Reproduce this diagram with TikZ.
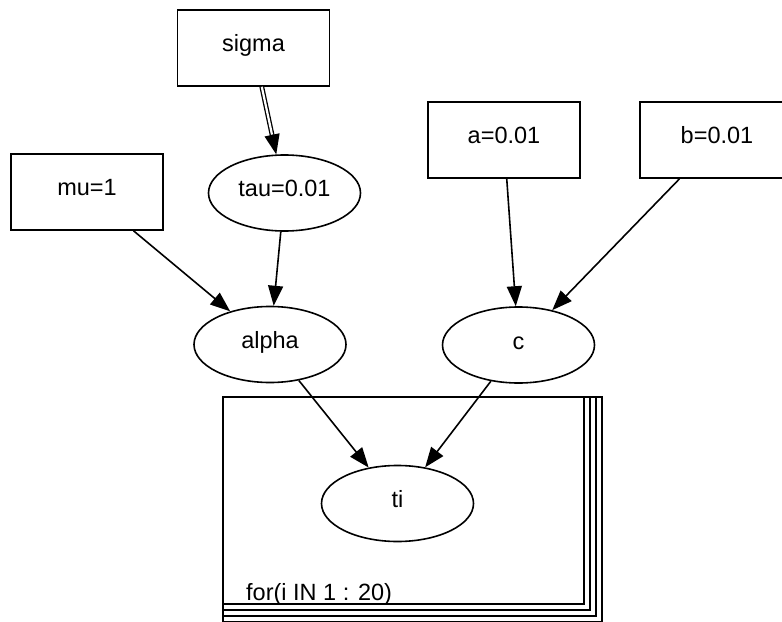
\documentclass[tikz,border=0pt]{standalone}
\usepackage{fontspec}
\setmainfont{Liberation Sans}
\usetikzlibrary{shapes.geometric,arrows.meta}
\begin{document}
\begin{tikzpicture}[x=1bp,y=-1bp,
  every node/.style={font=\fontsize{23.5bp}{28bp}\selectfont},
  base/.style={draw, line width=1.6bp, inner sep=0pt, text height=17bp, text depth=9bp},
  box/.style={base, rectangle, minimum width=152bp, minimum height=76bp},
  oval/.style={base, ellipse, minimum width=152bp, minimum height=76bp},
  arr/.style={draw, line width=1.6bp, -{Triangle[length=20bp,width=15bp]}},
  dbl/.style={draw, line width=1.3bp, double, double distance=2.2bp},
  plate/.style={draw, line width=2.2bp}]
\useasboundingbox (0,0) rectangle (782,622);
% plate
\foreach \k in {3,2,1,0}{
  \draw[plate] (223,397) rectangle ({584+6*\k},{604+6*\k});
}
% nodes
\node[box] (sigma) at (253.5,48) {sigma};
\node[box] (mu) at (87,192) {mu=1};
\node[box] (a) at (504,140) {a=0.01};
\node[box, minimum width=154bp] (b) at (717,140) {b=0.01};
\node[oval] (tau) at (284.5,193) {tau=0.01};
\node[oval] (alpha) at (270,344.5) {alpha};
\node[oval] (c) at (518.5,345) {c};
\node[oval] (ti) at (397.5,503.5) {ti};
\node[anchor=base west, inner sep=0pt] (forlbl) at (246,600) {for(i IN 1 : 20)};
% edges
\draw[dbl, shorten >=19bp] (sigma) -- (tau);
\draw[arr, shorten <=49bp] (sigma) -- (tau);
\draw[arr] (mu) -- (alpha);
\draw[arr] (tau) -- (alpha);
\draw[arr] (a) -- (c);
\draw[arr] (b) -- (c);
\draw[arr] (alpha) -- (ti);
\draw[arr] (c) -- (ti);
\end{tikzpicture}
\end{document}
